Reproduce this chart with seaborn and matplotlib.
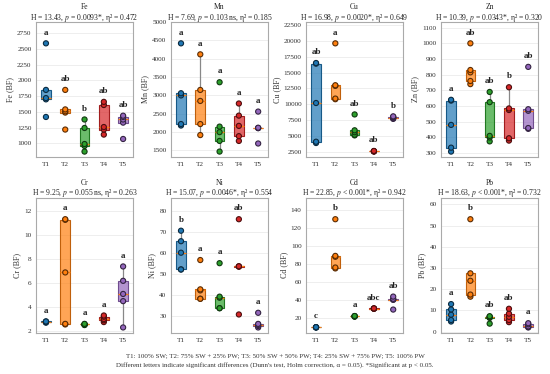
import numpy as np
import pandas as pd
import matplotlib
matplotlib.use('Agg')
import matplotlib.pyplot as plt
import matplotlib.colors as mcolors
import seaborn as sns

# Données (BF par traitement)
treatments = ['T1', 'T2', 'T3', 'T4', 'T5']
metals = ['Fe', 'Mn', 'Cu', 'Zn', 'Cr', 'Ni', 'Cd', 'Pb']

fe = [[1420, 1700, 1720, 1850, 2590],
      [1220, 1490, 1510, 1540, 1850],
      [870, 960, 990, 1245, 1380],
      [1140, 1220, 1260, 1610, 1660],
      [1070, 1330, 1380, 1420, 1440]]
mn = [[2180, 2220, 3000, 3060, 4420],
      [1920, 2220, 2850, 3150, 4120],
      [1470, 1760, 2000, 2150, 3360],
      [1760, 1890, 2170, 2450, 2780],
      [1690, 2110, 2110, 2120, 2560]]
cu = [[3900, 4100, 10200, 16400, 16500],
      [10800, 10900, 12900, 13000, 19600],
      [5100, 5200, 5600, 5900, 8400],
      [2550, 2600, 2600, 2600, 2650],
      [7700, 7800, 7900, 8000, 8100]]
zn = [[310, 335, 480, 635, 640],
      [740, 760, 815, 830, 1000],
      [375, 400, 410, 625, 690],
      [380, 395, 575, 585, 720],
      [455, 460, 570, 580, 850]]
cr = [[2.70, 2.75, 2.75, 2.80, 2.80],
      [2.55, 2.60, 6.90, 11.30, 11.35],
      [2.50, 2.55, 2.55, 2.55, 2.60],
      [2.75, 2.90, 3.00, 3.20, 3.30],
      [2.30, 4.50, 5.10, 6.20, 7.40]]
ni = [[52, 52, 60, 65.5, 70.5],
      [38, 38, 42, 42.5, 56.5],
      [33.5, 33.5, 38.5, 39, 55],
      [30.5, 53.3, 53.5, 53.5, 76],
      [24.3, 25, 25.5, 26, 31.3]]
cd = [[9, 9, 9.2, 9.2, 9.3],
      [75, 76, 88, 89, 130],
      [21, 21.5, 21.5, 21.5, 21.8],
      [30, 30, 30, 30.2, 30.3],
      [29, 40, 40, 41, 43.5]]
pb = [[4.8, 5.5, 8, 10.5, 13],
      [16.5, 17.5, 24, 27.5, 53],
      [3.8, 6.5, 6.8, 7, 7.3],
      [4.5, 5.5, 7, 8.5, 10.8],
      [2, 2.2, 2.5, 3.5, 4]]

letters = {
    'Fe': ['a', 'ab', 'b', 'ab', 'ab'],
    'Mn': ['a', 'a', 'a', 'a', 'a'],
    'Cu': ['ab', 'a', 'ab', 'ab', 'b'],
    'Zn': ['a', 'ab', 'ab', 'b', 'ab'],
    'Cr': ['a', 'a', 'a', 'a', 'a'],
    'Ni': ['b', 'a', 'a', 'ab', 'a'],
    'Cd': ['c', 'b', 'a', 'abc', 'ab'],
    'Pb': ['a', 'b', 'ab', 'ab', 'a'],
}
h_stats = [13.43, 7.69, 16.98, 10.39, 9.25, 15.07, 22.85, 18.63]
p_texts = ['= 0.0093*', '= 0.103 ns', '= 0.0020*', '= 0.0343*',
           '= 0.055 ns', '= 0.0046*', '< 0.001*', '< 0.001*']
eta_stats = [0.472, 0.185, 0.649, 0.320, 0.263, 0.554, 0.942, 0.732]

values = dict(zip(metals, [fe, mn, cu, zn, cr, ni, cd, pb]))
colors = ['#1f77b4', '#ff7f0e', '#2ca02c', '#d62728', '#9467bd']

sns.set_theme(style='whitegrid')
plt.rcParams['font.family'] = ['Liberation Serif', 'DejaVu Serif']
plt.rcParams['mathtext.fontset'] = 'stix'


def darker(c, f=0.6):
    r, g, b = mcolors.to_rgb(c)
    return (r * f, g * f, b * f)


fig, axes = plt.subplots(2, 4, figsize=(5.5, 3.74), dpi=100)
fig.subplots_adjust(left=0.066, right=0.978, top=0.942, bottom=0.11,
                    wspace=0.40, hspace=0.30)

for k, metal in enumerate(metals):
    ax = axes.flat[k]
    rows = []
    for t, vals in zip(treatments, values[metal]):
        for v in vals:
            rows.append({'Traitement': t, 'val': v})
    df = pd.DataFrame(rows)

    sns.boxplot(data=df, x='Traitement', y='val', hue='Traitement',
                order=treatments, hue_order=treatments, palette=colors,
                width=0.5, showfliers=False, showcaps=False, linewidth=0.8,
                linecolor='#888888', legend=False, ax=ax,
                medianprops={'color': '#ff7f0e', 'linewidth': 0.9},
                whiskerprops={'color': '#888888', 'linewidth': 0.9})
    for patch, c in zip(ax.patches, colors):
        patch.set_facecolor(mcolors.to_rgba(c, 0.7))
        patch.set_edgecolor(darker(c, 0.75))

    sns.stripplot(data=df, x='Traitement', y='val', hue='Traitement',
                  order=treatments, hue_order=treatments, palette=colors,
                  jitter=False, size=3.7, linewidth=0.8, legend=False, ax=ax)
    for coll in ax.collections:
        fc = coll.get_facecolor()
        if len(fc):
            coll.set_edgecolor(darker(fc[0], 0.35))

    all_v = np.concatenate([np.array(v, float) for v in values[metal]])
    lo, hi = all_v.min(), all_v.max()
    rng = hi - lo
    for i, vals in enumerate(values[metal]):
        ax.text(i, max(vals) + 0.1 * rng, letters[metal][i], ha='center',
                va='center', fontsize=6.5, fontweight='bold', color='#222222')
    ax.set_ylim(lo - 0.05 * rng, hi + 0.2 * rng)

    ax.set_title(f"{metal}\nH = {h_stats[k]:.2f}, $p$ {p_texts[k]}, "
                 f"η² = {eta_stats[k]:.3f}", fontsize=5.5, pad=1.5,
                 linespacing=1.05, color='#222222')
    ax.set_xlabel('')
    ax.set_ylabel(f'{metal} (BF)', fontsize=5.8, labelpad=2, color='#333333')
    ax.tick_params(axis='both', labelsize=5.2, pad=1.5, length=2,
                   colors='#333333')
    ax.grid(axis='y', color='#ebebeb', linewidth=0.6)
    ax.grid(axis='x', visible=False)
    for s in ax.spines.values():
        s.set_color('#aaaaaa')
        s.set_linewidth(0.8)

fig.text(0.5, 0.045, 'T1: 100% SW; T2: 75% SW + 25% PW; T3: 50% SW + 50% PW; '
         'T4: 25% SW + 75% PW; T5: 100% PW', ha='center', fontsize=5,
         color='#333333')
fig.text(0.5, 0.02, "Different letters indicate significant differences "
         "(Dunn's test, Holm correction, α = 0.05). *Significant at p < 0.05.",
         ha='center', fontsize=5, color='#333333')

fig.savefig('out.png', dpi=100)
